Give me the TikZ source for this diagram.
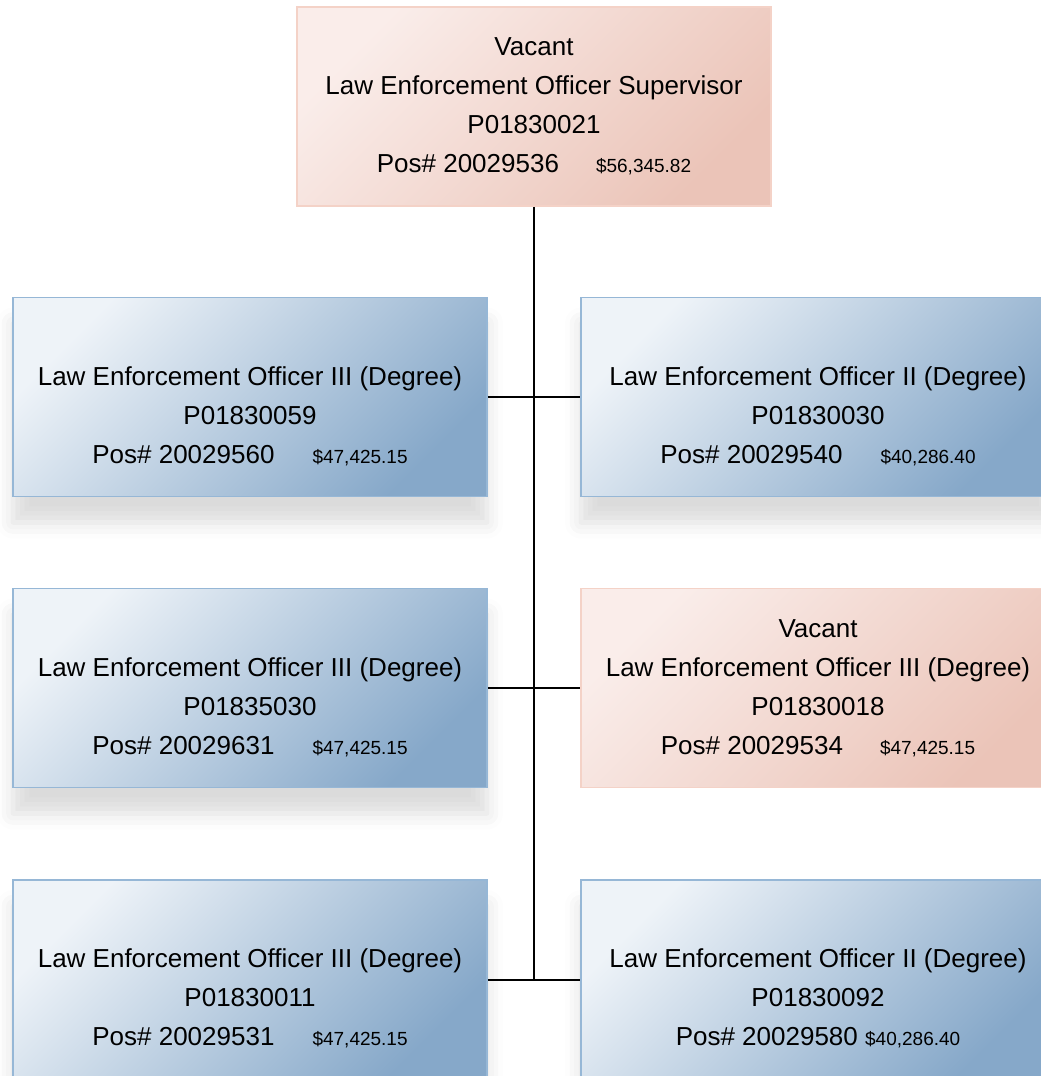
\documentclass[tikz,border=0pt]{standalone}
\usepackage{fontspec}
\setmainfont{Liberation Sans}
\usetikzlibrary{shadows.blur}

\definecolor{bluelight}{RGB}{238,243,248}
\definecolor{bluedark}{RGB}{134,168,201}
\definecolor{blueline}{RGB}{150,183,214}
\definecolor{pinklight}{RGB}{250,237,234}
\definecolor{pinkdark}{RGB}{235,196,184}
\definecolor{pinkline}{RGB}{244,210,199}

\newcommand{\salary}[1]{{\fontsize{19}{39}\selectfont #1}}

\begin{document}
\begin{tikzpicture}[x=1pt,y=-1pt,
  box/.style={rectangle,minimum width=474pt,minimum height=199pt,inner sep=0pt,
    align=center,font=\fontsize{26}{39}\selectfont,line width=1.5pt},
  bluebox/.style={box,draw=blueline,top color=bluelight,bottom color=bluedark,shading angle=45,
    blur shadow={shadow xshift=0pt,shadow yshift=-26pt,shadow blur radius=16pt,shadow opacity=14}},
  pinkbox/.style={box,draw=pinkline,top color=pinklight,bottom color=pinkdark,shading angle=45},
  link/.style={draw=black,line width=2pt}]

\useasboundingbox (0,0) rectangle (1041,1076);
\clip (0,0) rectangle (1041,1076);

% supervisor
\node[pinkbox] (sup) at (534,106.5) {Vacant\\Law Enforcement Officer Supervisor\\P01830021\\
  Pos\# 20029536\hspace{37pt}\salary{\$56,345.82}};

% first row
\node[bluebox] (l1) at (250,397) {\vphantom{V}\\Law Enforcement Officer III (Degree)\\P01830059\\
  Pos\# 20029560\hspace{38pt}\salary{\$47,425.15}};
\node[bluebox] (r1) at (818,397) {\vphantom{V}\\Law Enforcement Officer II (Degree)\\P01830030\\
  Pos\# 20029540\hspace{38pt}\salary{\$40,286.40}};

% second row
\node[bluebox] (l2) at (250,688) {\vphantom{V}\\Law Enforcement Officer III (Degree)\\P01835030\\
  Pos\# 20029631\hspace{38pt}\salary{\$47,425.15}};
\node[pinkbox] (r2) at (818,688) {Vacant\\Law Enforcement Officer III (Degree)\\P01830018\\
  Pos\# 20029534\hspace{37pt}\salary{\$47,425.15}};

% third row
\node[bluebox] (l3) at (250,979.5) {\vphantom{V}\\Law Enforcement Officer III (Degree)\\P01830011\\
  Pos\# 20029531\hspace{38pt}\salary{\$47,425.15}};
\node[bluebox] (r3) at (818,979.5) {\vphantom{V}\\Law Enforcement Officer II (Degree)\\P01830092\\
  Pos\# 20029580 \salary{\$40,286.40}};

% connectors
\coordinate (j3) at (534,979.5);
\draw[link] (sup.south) -- (j3);
\draw[link] (l1.east) -- (r1.west);
\draw[link] (l2.east) -- (r2.west);
\draw[link] (l3.east) -- (r3.west);

\end{tikzpicture}
\end{document}
